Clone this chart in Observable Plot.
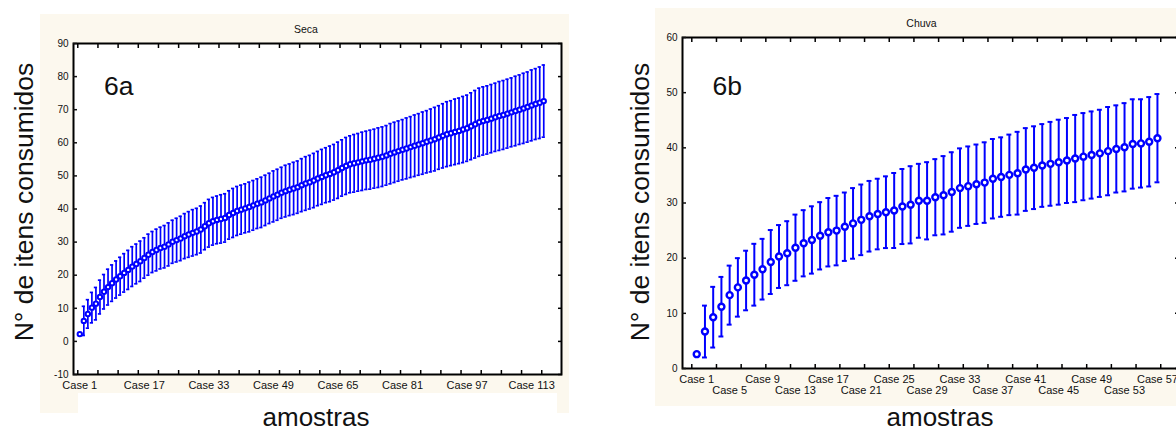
<!DOCTYPE html>
<html>
<head>
<meta charset="utf-8">
<script src="https://cdn.jsdelivr.net/npm/d3@7"></script>
<script src="https://cdn.jsdelivr.net/npm/@observablehq/plot@0.6"></script>
<style>
html,body{margin:0;padding:0;background:#fff;width:1176px;height:432px;overflow:hidden;position:relative;font-family:"Liberation Sans",Arial,sans-serif;}
.panel{position:absolute;background:#fcf8ee;z-index:1;}
.panel svg{display:block;}
.cover{position:absolute;background:#fff;z-index:2;}
#overlay{position:absolute;left:0;top:0;z-index:3;pointer-events:none;}
</style>
</head>
<body>
<div class="panel" id="pA" style="left:40px;top:14px;width:529px;height:399px;"></div>
<div class="cover" style="left:78px;top:393px;width:479px;height:20px;"></div>
<div class="panel" id="pB" style="left:655px;top:8px;width:533px;height:398px;"></div>
<svg id="overlay" width="1176" height="432" font-family="Liberation Sans, Arial, sans-serif" fill="#111">
  <text x="306" y="33" font-size="10.5" text-anchor="middle">Seca</text>
  <text x="921.5" y="27.3" font-size="10.5" text-anchor="middle">Chuva</text>
  <text x="104" y="95" font-size="26.5">6a</text>
  <text x="712.5" y="95" font-size="26.5">6b</text>
  <text x="33" y="202" font-size="26.5" text-anchor="middle" transform="rotate(-90 33 202)">N° de itens consumidos</text>
  <text x="649" y="202" font-size="26.5" text-anchor="middle" transform="rotate(-90 649 202)">N° de itens consumidos</text>
  <text x="316" y="426" font-size="26" text-anchor="middle">amostras</text>
  <text x="940" y="426" font-size="26" text-anchor="middle">amostras</text>
</svg>
<script>
// ---- Panel 6a: Seca (116 cases) ----
const meanSeca = [2.2,6.2,8.3,10.2,11.4,13.4,15.0,16.4,17.6,18.7,
  19.7,20.7,21.6,22.6,23.4,24.2,25.2,26.2,27.0,27.6,
  28.2,28.6,29.3,30.1,30.6,31.1,31.8,32.3,32.8,33.2,
  33.8,34.8,35.7,36.3,36.7,37.0,37.3,38.2,38.8,39.4,
  39.8,40.2,40.6,41.1,41.6,42.0,42.6,43.2,43.8,44.3,
  44.9,45.4,45.8,46.2,46.6,47.2,47.7,48.1,48.6,49.2,
  49.7,50.2,50.6,51.1,51.7,52.4,53.0,53.5,53.8,54.1,
  54.4,54.7,54.9,55.2,55.5,55.8,56.2,56.7,57.1,57.5,
  57.9,58.3,58.7,59.1,59.5,59.9,60.3,60.7,61.1,61.6,
  62.1,62.6,62.9,63.3,63.6,64.0,64.4,65.0,65.6,66.2,
  66.6,66.9,67.3,67.7,68.1,68.4,68.8,69.2,69.6,70.0,
  70.4,70.8,71.3,71.7,72.1,72.6];
const errSeca = [0,4.4,4.3,4.6,4.9,5.1,5.2,5.4,5.5,5.6,
  5.7,5.8,5.9,6.0,6.0,6.1,6.1,6.2,6.2,6.3,
  6.3,6.4,6.5,6.5,6.6,6.7,6.8,6.9,7.0,7.0,
  7.1,7.1,7.2,7.2,7.2,7.3,7.3,7.3,7.4,7.4,
  7.4,7.4,7.5,7.5,7.5,7.6,7.6,7.6,7.7,7.7,
  7.7,7.8,7.8,7.9,7.9,8.0,8.1,8.1,8.2,8.2,
  8.3,8.3,8.4,8.4,8.5,8.5,8.6,8.6,8.7,8.7,
  8.8,8.8,8.9,8.9,9.0,9.0,9.0,9.1,9.1,9.1,
  9.1,9.2,9.2,9.3,9.3,9.4,9.4,9.5,9.6,9.6,
  9.7,9.8,9.8,9.9,9.9,10.0,10.0,10.1,10.2,10.3,
  10.3,10.3,10.3,10.3,10.4,10.4,10.4,10.4,10.5,10.5,
  10.6,10.6,10.7,10.7,10.8,10.9];
const yTicksSeca = [-10,0,10,20,30,40,50,60,70,80,90];
const xTicksSeca = d3.range(0.5, 116, 5);
const caseLabelsSeca = [1,17,33,49,65,81,97,113];

// ---- Panel 6b: Chuva (57 cases) ----
const meanChuva = [2.6,6.7,9.3,11.2,13.3,14.7,15.95,17.0,18.0,19.3,
  20.3,20.9,21.9,22.7,23.3,24.05,24.7,25.0,25.7,26.3,
  26.95,27.6,28.0,28.33,28.64,29.36,29.67,30.4,30.4,31.05,
  31.4,32.0,32.7,33.05,33.4,33.7,34.4,34.7,35.1,35.4,
  36.07,36.4,36.8,37.1,37.4,37.7,38.06,38.4,38.7,39.0,
  39.4,39.8,40.1,40.7,40.8,41.1,41.75];
const errChuva = [0,4.7,5.5,5.4,5.35,5.3,5.4,5.6,5.5,5.8,
  5.7,5.8,6.0,6.0,6.1,6.1,6.2,6.3,6.2,6.4,
  6.4,6.4,6.4,6.5,6.8,6.8,7.0,6.7,7.0,6.9,
  7.1,7.2,7.2,7.2,7.2,7.3,7.2,7.2,7.3,7.5,
  7.5,7.5,7.5,7.6,7.7,7.7,7.9,7.9,7.9,7.9,
  8.0,7.9,8.0,8.1,8.0,8.1,8.0];
const yTicksChuva = [0,10,20,30,40,50,60];
const xTicksChuva = d3.range(0.4, 58, 3);
const caseLabelsChuva1 = [1,9,17,25,33,41,49,57];
const caseLabelsChuva2 = [5,13,21,29,37,45,53];

const BLUE = "#0000ff";
const rows = (means, errs) => means.map((m, i) => ({c: i + 1, m, e: errs[i], lo: m - errs[i], hi: m + errs[i]}));

function panel(o) {
  const data = rows(o.means, o.errs);
  const bars = data.filter(d => d.e > 0);
  const tickStyle = {tickSize: -4, tickFormat: () => "", label: null, strokeWidth: 1.5, stroke: "#000"};
  return Plot.plot({
    width: o.width, height: o.height,
    marginLeft: o.mL, marginRight: o.mR, marginTop: o.mT, marginBottom: o.mB,
    x: {domain: o.xDomain},
    y: {domain: o.yDomain},
    style: {background: "transparent", fontFamily: "'Liberation Sans', Arial, sans-serif", color: "#111", overflow: "visible"},
    marks: [
      Plot.frame({fill: "white"}),
      Plot.ruleX(bars, {x: "c", y1: "lo", y2: "hi", stroke: BLUE, strokeWidth: o.barSW}),
      Plot.ruleY(bars, {y: "hi", x1: d => d.c - o.cap, x2: d => d.c + o.cap, stroke: BLUE, strokeWidth: o.barSW}),
      Plot.ruleY(bars, {y: "lo", x1: d => d.c - o.cap, x2: d => d.c + o.cap, stroke: BLUE, strokeWidth: o.barSW}),
      Plot.dot(data, {x: "c", y: "m", r: o.r, stroke: BLUE, strokeWidth: o.dotSW, fill: "white"}),
      Plot.frame({stroke: "#000", strokeWidth: 2}),
      Plot.axisY({anchor: "left", ticks: o.yTicks, tickSize: -4, tickPadding: 9, tickFormat: d => String(d), label: null, strokeWidth: 1.5, fontSize: 10}),
      Plot.axisY({anchor: "right", ticks: o.yTicks, ...tickStyle}),
      Plot.axisX({anchor: "top", ticks: o.xTicks, ...tickStyle}),
      Plot.axisX({anchor: "bottom", ticks: o.xTicks, ...tickStyle}),
      ...o.labelRows.map(([cases, pad]) => Plot.axisX({anchor: "bottom", ticks: cases, tickSize: 0, tickPadding: pad, tickFormat: d => `Case ${d}`, label: null, fontSize: 11}))
    ]
  });
}

document.getElementById("pA").append(panel({
  means: meanSeca, errs: errSeca,
  width: 529, height: 399, mL: 33, mR: 8, mT: 29, mB: 39,
  xDomain: [-0.56, 120.4], yDomain: [-10, 90],
  yTicks: yTicksSeca, xTicks: xTicksSeca,
  labelRows: [[caseLabelsSeca, 7]],
  r: 2.2, dotSW: 2, barSW: 1.7, cap: 0.4
}));

document.getElementById("pB").append(panel({
  means: meanChuva, errs: errChuva,
  width: 533, height: 398, mL: 27, mR: 10, mT: 29, mB: 38,
  xDomain: [-0.73, 59.56], yDomain: [0, 60],
  yTicks: yTicksChuva, xTicks: xTicksChuva,
  labelRows: [[caseLabelsChuva1, 7], [caseLabelsChuva2, 18]],
  r: 3, dotSW: 2.4, barSW: 2, cap: 0.3
}));
</script>
</body>
</html>
